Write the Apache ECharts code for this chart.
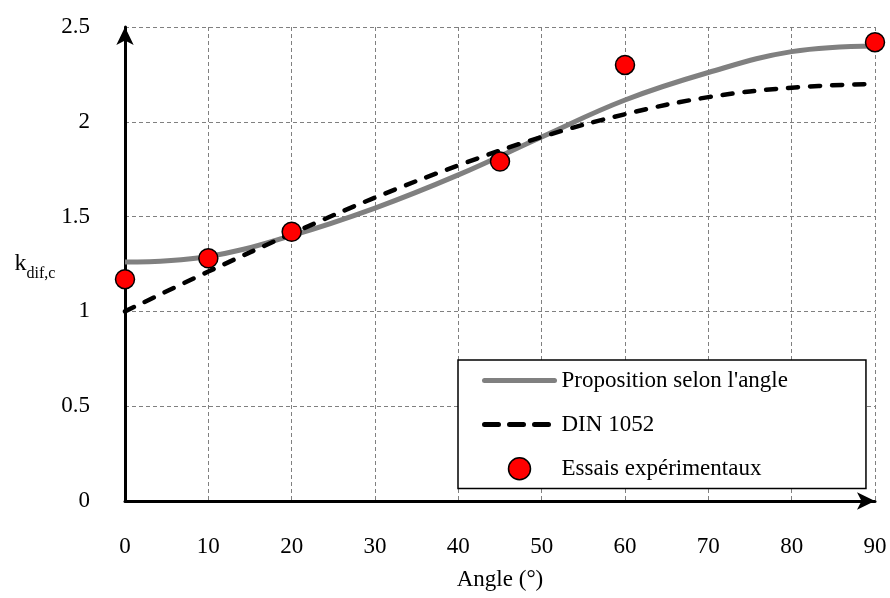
<!DOCTYPE html>
<html>
<head>
<meta charset="utf-8">
<script src="https://cdn.jsdelivr.net/npm/echarts@6/dist/echarts.min.js"></script>
<style>
  html, body { margin: 0; padding: 0; background: #fff; }
  #chart { width: 890px; height: 598px; }
</style>
</head>
<body>
<div id="chart"></div>
<script>
// angles (deg) for the curves
var angles = [0, 10, 20, 30, 40, 50, 60, 70, 80, 90];
// proposition selon l'angle (grey curve)
var proposition = [1.26, 1.29, 1.40, 1.545, 1.72, 1.92, 2.115, 2.26, 2.37, 2.40];
// DIN 1052 (dashed curve)
var din1052 = [1.00, 1.21, 1.41, 1.60, 1.77, 1.92, 2.04, 2.13, 2.18, 2.20];
// essais expérimentaux
var essaisX = [0, 10, 20, 45, 60, 90];
var essaisY = [1.17, 1.28, 1.42, 1.79, 2.30, 2.42];

var FONT = 'Liberation Serif';

function pairs(xs, ys) {
  return xs.map(function (x, i) { return [x, ys[i]]; });
}

var chart = echarts.init(document.getElementById('chart'));

var option = {
  animation: false,
  backgroundColor: '#fff',
  textStyle: { fontFamily: FONT, color: '#000' },
  grid: { left: 125, right: 15, top: 27, bottom: 97 },
  legend: {
    left: 458,
    top: 360,
    orient: 'vertical',
    backgroundColor: '#fff',
    borderColor: '#000',
    borderWidth: 1.5,
    borderRadius: 0,
    padding: [9, 78, 8, 24],
    itemWidth: 70,
    itemHeight: 22,
    itemGap: 21,
    textStyle: { fontFamily: FONT, fontSize: 23, color: '#000', padding: [0, 0, 0, 2] },
    data: [
      {
        name: 'Proposition selon l\'angle',
        itemStyle: { opacity: 0 },
        lineStyle: { color: '#808080', width: 5, type: 'solid', cap: 'round' }
      },
      {
        name: 'DIN 1052',
        itemStyle: { opacity: 0 },
        lineStyle: { color: '#000', width: 5, type: [14, 11], cap: 'round' }
      },
      {
        name: 'Essais expérimentaux',
        itemStyle: { color: '#ff0000', borderColor: '#000', borderWidth: 1.5, opacity: 1 }
      }
    ]
  },
  xAxis: {
    type: 'value',
    min: 0,
    max: 90,
    interval: 10,
    name: 'Angle (°)',
    nameLocation: 'middle',
    nameGap: 67,
    nameTextStyle: { fontFamily: FONT, fontSize: 23, color: '#000' },
    axisLine: {
      show: true,
      symbol: ['none', 'arrow'],
      symbolSize: [13, 18],
      symbolOffset: [0, 0],
      lineStyle: { color: '#000', width: 3 }
    },
    axisTick: { show: false },
    axisLabel: { margin: 34, fontFamily: FONT, fontSize: 23, color: '#000' },
    splitLine: { show: true, lineStyle: { color: '#808080', type: [4, 3], width: 1 } }
  },
  yAxis: {
    type: 'value',
    min: 0,
    max: 2.5,
    interval: 0.5,
    name: '{k|k}{s|dif,c}',
    nameLocation: 'middle',
    nameRotate: 0,
    nameGap: 63,
    nameTextStyle: {
      rich: {
        k: { fontFamily: FONT, fontSize: 24, color: '#000', verticalAlign: 'bottom' },
        s: { fontFamily: FONT, fontSize: 16, color: '#000', verticalAlign: 'bottom', padding: [0, 0, -6, 0] }
      }
    },
    axisLine: {
      show: true,
      symbol: ['none', 'arrow'],
      symbolSize: [13, 18],
      symbolOffset: [0, 0],
      lineStyle: { color: '#000', width: 3 }
    },
    axisTick: { show: false },
    axisLabel: { margin: 35, fontFamily: FONT, fontSize: 23, color: '#000' },
    splitLine: { show: true, lineStyle: { color: '#808080', type: [4, 3], width: 1 } }
  },
  series: [
    {
      name: 'Proposition selon l\'angle',
      type: 'line',
      data: pairs(angles, proposition),
      smooth: 0.4,
      symbol: 'none',
      lineStyle: { color: '#808080', width: 5 },
      itemStyle: { color: '#808080' },
      z: 2
    },
    {
      name: 'DIN 1052',
      type: 'line',
      data: pairs(angles, din1052),
      smooth: 0.4,
      symbol: 'none',
      lineStyle: { color: '#000', width: 4.5, type: [10, 12], cap: 'round' },
      itemStyle: { color: '#000' },
      z: 3
    },
    {
      name: 'Essais expérimentaux',
      type: 'scatter',
      data: pairs(essaisX, essaisY),
      symbol: 'circle',
      symbolSize: 19,
      itemStyle: { color: '#ff0000', borderColor: '#000', borderWidth: 1.5, opacity: 1 },
      z: 5
    }
  ]
};

chart.setOption(option);
</script>
</body>
</html>
